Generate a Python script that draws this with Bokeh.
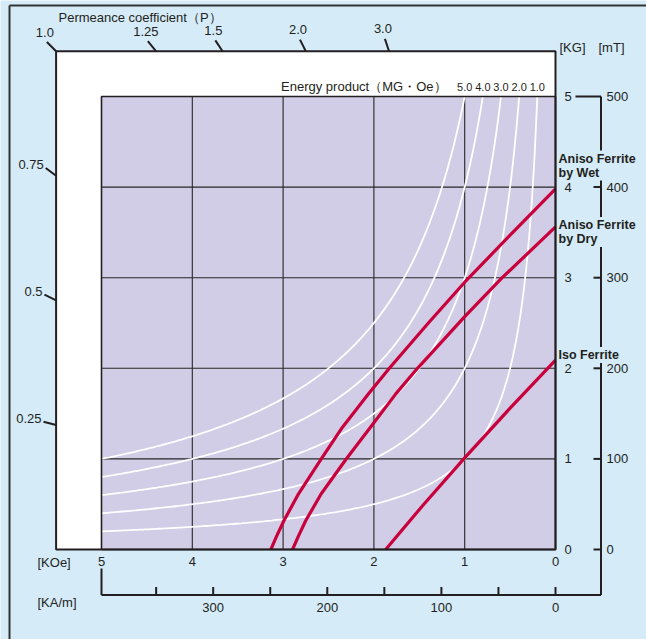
import numpy as np
from bokeh.plotting import figure
from bokeh.models import Range1d
from bokeh.core.properties import value
from bokeh.embed import file_html
from bokeh.resources import INLINE

# ---------------- data ----------------
koe_ticks = [5, 4, 3, 2, 1, 0]
kam_ticks = [0, 50, 100, 150, 200, 250, 300, 350]
kam_labels = [0, 100, 200, 300]
kg_ticks = [0, 1, 2, 3, 4, 5]
mt_labels = [0, 100, 200, 300, 400, 500]
permeance_top = [1.0, 1.25, 1.5, 2.0, 3.0]
permeance_left = [0.75, 0.5, 0.25]
energy_products = [5.0, 4.0, 3.0, 2.0, 1.0]

wet_h = [3.135, 3.07, 2.99, 2.83, 2.585, 2.346, 2.059, 1.83, 1.40, 1.00, 0.50, 0.00]
wet_b = [0.00, 0.15, 0.32, 0.615, 0.993, 1.35, 1.718, 2.00, 2.50, 2.95, 3.47, 3.98]
dry_h = [2.896, 2.83, 2.75, 2.58, 2.309, 2.00, 1.759, 1.52, 1.00, 0.587, 0.00]
dry_b = [0.00, 0.15, 0.32, 0.615, 0.993, 1.40, 1.718, 2.00, 2.57, 3.00, 3.56]
iso_h = [1.87, 1.45, 1.01, 0.50, 0.00]
iso_b = [0.00, 0.50, 1.00, 1.56, 2.09]
series_names = ["Aniso Ferrite\nby Wet", "Aniso Ferrite\nby Dry", "Iso Ferrite"]

# ---------------- layout ----------------
W, H = 646, 639
PX_X, PX_Y = 90.8, 90.6          # pixels per KOe / per KG
OX, OY = 555, 549                 # pixel position of H=0, B=0

def hx(px):
    return (OX - px) / PX_X

def by(py):
    return (OY - py) / PX_Y

LIGHT = "#d5ebf8"
PURPLE = "#d1cde6"
RED = "#c8003c"
INK = "#231f20"
FONT = value("Liberation Sans")
FS = "13px"
KA_PER_KOE = 79.577

p = figure(width=W, height=H, output_backend="svg", toolbar_location=None,
           x_range=Range1d(hx(0), hx(W)),
           y_range=Range1d(by(H), by(0)),
           x_axis_type=None, y_axis_type=None, min_border=0)
p.grid.visible = False
p.background_fill_color = LIGHT
p.border_fill_color = LIGHT
p.outline_line_color = None

# outer border (left & top)
p.line([hx(9), hx(9)], [by(H), by(5)], line_color="#333333", line_width=2)
p.line([hx(9), hx(W)], [by(5), by(5)], line_color="#333333", line_width=2)

# white frame and purple plot area
p.quad(left=[5.5], right=[0], bottom=[0], top=[5.5], fill_color="white", line_color=None)
p.quad(left=[5], right=[0], bottom=[0], top=[5], fill_color=PURPLE, line_color=None)

# grid
inner_h = koe_ticks[1:-1]
inner_b = kg_ticks[1:-1]
p.segment(x0=inner_h, y0=[0] * len(inner_h), x1=inner_h, y1=[5] * len(inner_h),
          line_color="#262626", line_width=1.1)
p.segment(x0=[0] * len(inner_b), y0=inner_b, x1=[5] * len(inner_b), y1=inner_b,
          line_color="#262626", line_width=1.1)

# energy product curves (B*H = const)
exs, eys = [], []
for e in energy_products:
    hh = np.linspace(e / 5.0, 5.0, 160)
    exs.append(list(hh))
    eys.append(list(e / hh))
p.multi_line(exs, eys, line_color="white", line_width=1.8)

# demagnetisation curves
p.multi_line([wet_h, dry_h, iso_h], [wet_b, dry_b, iso_b], line_color=RED,
             line_width=3.2, line_join="round")

# borders
p.quad(left=[5], right=[0], bottom=[0], top=[5], fill_alpha=0, line_color=INK, line_width=1.6)
p.quad(left=[5.5], right=[0], bottom=[0], top=[5.5], fill_alpha=0, line_color=INK, line_width=2)

# ---- KOe axis labels ----
p.text(x=koe_ticks, y=[by(561)] * len(koe_ticks), text=[str(t) for t in koe_ticks],
       text_font=FONT, text_font_size=FS, text_align="center", text_baseline="middle",
       text_color=INK)
p.text(x=[hx(37)], y=[by(562)], text=["[KOe]"], text_font=FONT, text_font_size=FS,
       text_align="left", text_baseline="middle", text_color=INK)

# ---- KA/m axis ----
AX_B = by(594.5)
p.line([5, hx(600.5)], [AX_B, AX_B], line_color=INK, line_width=2)
p.line([5, 5], [by(568), AX_B], line_color=INK, line_width=2)
kh = [t / KA_PER_KOE for t in kam_ticks]
p.segment(x0=kh, y0=[by(586.5)] * len(kh), x1=kh, y1=[AX_B] * len(kh),
          line_color=INK, line_width=2)
p.text(x=[t / KA_PER_KOE for t in kam_labels], y=[by(607)] * len(kam_labels),
       text=[str(t) for t in kam_labels], text_font=FONT, text_font_size=FS,
       text_align="center", text_baseline="middle", text_color=INK)
p.text(x=[hx(37)], y=[by(602)], text=["[KA/m]"], text_font=FONT, text_font_size=FS,
       text_align="left", text_baseline="middle", text_color=INK)

# ---- KG / mT axis ----
AX_H = hx(600.5)
p.line([AX_H, AX_H], [5, AX_B], line_color=INK, line_width=2)
p.line([hx(575), AX_H], [5, 5], line_color=INK, line_width=2)
mt_b = [m / 100.0 for m in mt_labels[:-1]]
p.segment(x0=[hx(593)] * len(mt_b), y0=mt_b, x1=[AX_H] * len(mt_b), y1=mt_b,
          line_color=INK, line_width=2)
p.text(x=[hx(564)] * len(kg_ticks), y=kg_ticks, text=[str(t) for t in kg_ticks],
       text_font=FONT, text_font_size=FS, text_align="left", text_baseline="middle",
       text_color=INK)
p.text(x=[hx(606)] * len(mt_labels), y=[m / 100.0 for m in mt_labels],
       text=[str(m) for m in mt_labels], text_font=FONT, text_font_size=FS,
       text_align="left", text_baseline="middle", text_color=INK)
p.text(x=[hx(559), hx(598)], y=[by(47), by(47)], text=["[KG]", "[mT]"], text_font=FONT,
       text_font_size=FS, text_align="left", text_baseline="middle", text_color=INK)

# ---- series labels (with background covering the axis line) ----
p.text(x=[hx(557)] * 3, y=[by(150), by(216.5)], text=series_names[:2],
       text_font=FONT, text_font_size="12.5px", text_font_style="bold",
       text_align="left", text_baseline="top", text_line_height=1.0, text_color=INK,
       background_fill_color=LIGHT, padding=1)
p.text(x=[hx(557)], y=[by(354.5)], text=series_names[2:],
       text_font=FONT, text_font_size="12.5px", text_font_style="bold",
       text_align="left", text_baseline="middle", text_color=INK,
       background_fill_color=LIGHT, padding=1)

# ---- permeance coefficient ticks ----
def outer(hh, bb, length=13.0):
    vx, vy = hh * PX_X, bb * PX_Y
    n = (vx * vx + vy * vy) ** 0.5
    return hh + vx / n * length / PX_X, bb + vy / n * length / PX_Y

top_h = [5.5 / pc for pc in permeance_top]
top_b = [5.5] * len(permeance_top)
top_o = [outer(a, b) for a, b in zip(top_h, top_b)]
left_h = [5.5] * len(permeance_left)
left_b = [5.5 * pc for pc in permeance_left]
left_o = [outer(a, b) for a, b in zip(left_h, left_b)]

p.segment(x0=top_h + left_h, y0=top_b + left_b,
          x1=[o[0] for o in top_o + left_o], y1=[o[1] for o in top_o + left_o],
          line_color=INK, line_width=2)
p.text(x=[o[0] for o in top_o], y=[o[1] for o in top_o], text=[str(pc) for pc in permeance_top],
       x_offset=-2, y_offset=-10, text_font=FONT, text_font_size=FS,
       text_align="center", text_baseline="middle", text_color=INK)
p.text(x=[o[0] for o in left_o], y=[o[1] for o in left_o], text=[str(pc) for pc in permeance_left],
       x_offset=-2, y_offset=-3, text_font=FONT, text_font_size=FS,
       text_align="right", text_baseline="middle", text_color=INK)
p.text(x=[hx(58)], y=[by(17)], text=["Permeance coefficient（P）"], text_font=FONT,
       text_font_size=FS, text_align="left", text_baseline="middle", text_color=INK)

# ---- energy product labels ----
p.text(x=[hx(446)], y=[by(86)], text=["Energy product（MG・Oe）"], text_font=FONT,
       text_font_size=FS, text_align="right", text_baseline="middle", text_color=INK)
p.text(x=[e / 5.0 for e in energy_products], y=[by(86.5)] * len(energy_products),
       text=[f"{e:.1f}" for e in energy_products], text_font=FONT, text_font_size="11px",
       text_align="center", text_baseline="middle", text_color=INK)

open("out.html", "w").write(file_html(p, INLINE))
